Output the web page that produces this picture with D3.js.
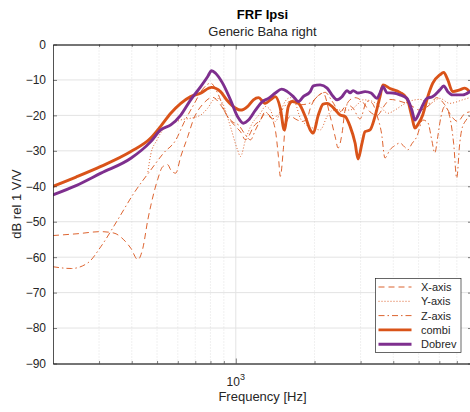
<!DOCTYPE html>
<html>
<head>
<meta charset="utf-8">
<script src="https://cdn.jsdelivr.net/npm/d3@7"></script>
<style>
  body { margin: 0; background: #fff; }
  svg { display: block; font-family: "Liberation Sans", Arial, Helvetica, sans-serif; }
  .grid-major { stroke: #e3e3e3; stroke-width: 1; }
  .grid-minor { stroke: #cfcfcf; stroke-width: 0.6; stroke-dasharray: 1,2; }
</style>
</head>
<body>
<svg id="chart" width="470" height="412"></svg>
<script>
// FRF Ipsi - Generic Baha right

const yTicks = [0, -10, -20, -30, -40, -50, -60, -70, -80, -90];
const xMinorTicks = [300, 400, 500, 600, 700, 800, 900, 2000, 3000, 4000, 5000, 6000, 7000];
const xMajorTicks = [1000];

const xAxisHz = [200, 247, 305, 342, 373, 397, 422, 441, 461, 473, 503, 525, 549, 564, 589, 616, 655, 690, 753, 815, 874, 938, 1000, 1042, 1089, 1118, 1168, 1242, 1297, 1356, 1416, 1455, 1480, 1519, 1546, 1616, 1718, 1796, 1876, 1926, 2048, 2158, 2296, 2398, 2461, 2549, 2617, 2735, 2858, 3038, 3260, 3466, 3718, 3885, 4241, 4629, 5053, 5516, 5867, 6294, 6690, 7054, 7499, 7834];
const xAxisDb = [-53.9, -53.4, -52.8, -53.2, -55.1, -57.5, -60.7, -57.5, -49.4, -45.5, -38, -34.5, -33.9, -35.4, -36.3, -31.6, -26, -21, -16.6, -14.9, -17, -20.8, -23.2, -24.6, -26.9, -26, -23.2, -21.3, -19.4, -20.3, -24.1, -31.6, -37.2, -29.7, -23.2, -20.3, -21.3, -21.7, -20.8, -18, -14.7, -13.7, -20.3, -26, -29.2, -25, -18.5, -15.6, -15, -16, -19, -20, -17, -15.5, -16, -17, -18.5, -17, -15, -17, -20.3, -21.7, -19.5, -19];

const yAxisHz = [461, 473, 499, 516, 564, 616, 672, 734, 780, 822, 852, 890, 954, 1015, 1042, 1089, 1138, 1242, 1297, 1356, 1416, 1480, 1546, 1616, 1688, 1764, 1843, 1977, 2102, 2235, 2357, 2505, 2735, 2908, 3068, 3318, 3558, 3817, 4059, 4354, 4629, 5053, 5516, 6025, 6572, 7370, 7834];
const yAxisDb = [-36, -31, -27, -25, -22.7, -21.3, -20.8, -19.9, -18, -15.6, -15.2, -16.6, -23.2, -29.7, -31.6, -26.9, -23.2, -19.4, -17.5, -18.5, -21.7, -19, -16, -15, -16.5, -20.8, -22.5, -23.6, -24.1, -20.3, -18.5, -18.5, -18.5, -17, -15.6, -16, -17.5, -19.4, -18.5, -17, -16, -15.5, -16.6, -15.2, -16.6, -15.6, -15];

const zAxisHz = [200, 235, 272, 305, 354, 408, 473, 530, 589, 634, 690, 753, 801, 852, 914, 967, 1024, 1089, 1138, 1189, 1242, 1297, 1380, 1480, 1616, 1764, 1926, 2066, 2197, 2335, 2505, 2664, 2808, 2985, 3175, 3318, 3466, 3606, 3718, 3885, 4059, 4241, 4431, 4549, 4711, 4923, 5188, 5421, 5616, 5765, 5919, 6025, 6294, 6572, 6808, 6993, 7178, 7305, 7567, 7834];
const zAxisDb = [-62.7, -63.2, -61.6, -57, -49.4, -41.9, -35.4, -30.6, -27, -22, -17, -12.3, -10.9, -13.7, -19.4, -21.7, -22.7, -25.5, -26.9, -24.1, -21.3, -19, -21, -19, -16, -17, -16.5, -14.5, -13.5, -16, -19, -17, -18, -21, -16, -16.5, -20, -25, -32, -29.7, -28.5, -27.8, -29, -29.7, -28, -26, -21.3, -22, -27, -30.6, -26, -22.2, -17.5, -20.3, -28, -37.7, -28, -24.1, -21.5, -20.3];

const combiHz = [200, 245, 305, 397, 473, 516, 564, 616, 672, 734, 808, 874, 922, 1000, 1042, 1108, 1168, 1220, 1297, 1356, 1416, 1480, 1532, 1588, 1644, 1734, 1843, 1926, 1977, 2066, 2158, 2235, 2357, 2505, 2617, 2735, 2858, 2934, 3038, 3120, 3260, 3406, 3558, 3653, 3885, 4241, 4509, 4711, 4837, 4966, 5188, 5421, 5664, 6025, 6237, 6464, 6747, 7178, 7499, 7834];
const combiDb = [-40, -37.4, -34.4, -30.2, -26.4, -23.1, -19.4, -16.6, -14.7, -13.7, -12.1, -13.3, -15.6, -18, -18.5, -17.5, -15.6, -15, -16.6, -15.6, -14.7, -18, -24.1, -17.5, -16.1, -16.6, -20.3, -24.1, -25, -20, -16.8, -16.6, -17.8, -19.9, -20.3, -23.1, -27.8, -32.3, -27.8, -24.6, -24.1, -20.3, -14.7, -11.4, -12.4, -13.5, -15.2, -20.3, -23.6, -22.6, -19.8, -14.7, -10.9, -8.6, -7.9, -10, -13.3, -12.8, -12.3, -13.3];

const dobrevHz = [200, 245, 305, 397, 473, 516, 564, 616, 672, 734, 780, 808, 837, 890, 954, 1015, 1070, 1118, 1189, 1264, 1332, 1416, 1497, 1574, 1660, 1734, 1811, 1926, 1977, 2102, 2235, 2357, 2440, 2549, 2664, 2735, 2808, 2934, 3120, 3290, 3466, 3558, 3653, 3783, 3989, 4241, 4509, 4711, 4837, 5053, 5374, 5664, 6025, 6237, 6464, 6747, 7370, 7834];
const dobrevDb = [-42.4, -39.8, -36.3, -32.1, -27.4, -24.1, -22.7, -19.9, -15.6, -11.9, -9.1, -7.4, -8.1, -10.9, -15.6, -20.3, -22.2, -21.3, -18.5, -16.1, -15.2, -13.7, -12.6, -13.3, -14.7, -16.1, -14.7, -13.3, -11.7, -11.4, -12.3, -14.7, -15.6, -14.7, -13, -13.6, -13, -13.7, -13.3, -13.7, -15.2, -13.7, -11.9, -13.6, -13.7, -14.2, -15.2, -18.5, -21.3, -18.9, -15.2, -14.7, -12.8, -11.7, -13.3, -14.2, -14.2, -13.3];

const seriesNames = ['X-axis', 'Y-axis', 'Z-axis', 'combi', 'Dobrev'];

const orange = '#d95319';
const purple = '#7e2f8e';
const ink = '#262626';

const series = [
    { name: seriesNames[0], hz: xAxisHz, db: xAxisDb, color: orange, width: 1, dash: '6,4' },
    { name: seriesNames[1], hz: yAxisHz, db: yAxisDb, color: orange, width: 1, dash: '1,2' },
    { name: seriesNames[2], hz: zAxisHz, db: zAxisDb, color: orange, width: 1, dash: '6,3,1.5,3' },
    { name: seriesNames[3], hz: combiHz, db: combiDb, color: orange, width: 2.9, dash: null },
    { name: seriesNames[4], hz: dobrevHz, db: dobrevDb, color: purple, width: 2.9, dash: null }
];

const svg = d3.select('#chart');
const plotLeft = 53, plotRight = 472, plotTop = 44.5, plotBottom = 363.5;

const x = d3.scaleLog().domain([200, 8000]).range([plotLeft, plotRight]);
const y = d3.scaleLinear().domain([-90, 0]).range([plotBottom, plotTop]);

// grid
svg.append('g').selectAll('line')
    .data(yTicks.slice(1, -1))
    .enter().append('line')
    .attr('class', 'grid-major')
    .attr('x1', plotLeft).attr('x2', plotRight)
    .attr('y1', d => y(d)).attr('y2', d => y(d));

svg.append('g').selectAll('line')
    .data(xMinorTicks)
    .enter().append('line')
    .attr('class', 'grid-minor')
    .attr('x1', d => x(d)).attr('x2', d => x(d))
    .attr('y1', plotTop).attr('y2', plotBottom);

svg.append('g').selectAll('line')
    .data(xMajorTicks)
    .enter().append('line')
    .attr('class', 'grid-major')
    .attr('x1', d => x(d)).attr('x2', d => x(d))
    .attr('y1', plotTop).attr('y2', plotBottom);

// curves
svg.append('clipPath').attr('id', 'plotClip')
    .append('rect')
    .attr('x', plotLeft).attr('y', plotTop)
    .attr('width', plotRight - plotLeft).attr('height', plotBottom - plotTop);

const line = d3.line()
    .x(d => x(d[0]))
    .y(d => y(d[1]))
    .curve(d3.curveMonotoneX);

const curves = svg.append('g').attr('clip-path', 'url(#plotClip)');
series.forEach(s => {
    curves.append('path')
        .datum(s.hz.map((f, i) => [f, s.db[i]]))
        .attr('d', line)
        .attr('fill', 'none')
        .attr('stroke', s.color)
        .attr('stroke-width', s.width)
        .attr('stroke-dasharray', s.dash)
        .attr('stroke-linejoin', 'round')
        .attr('stroke-linecap', s.dash ? 'butt' : 'round')
        .attr('opacity', s.dash ? 0.9 : 1);
});

// axes (ticks inside, MATLAB style)
const axisStyle = g => {
    g.selectAll('path.domain').attr('stroke', ink).attr('stroke-width', 0.8);
    g.selectAll('.tick line').attr('stroke', ink).attr('stroke-width', 0.6);
    g.selectAll('.tick text').attr('fill', ink).style('font-size', '12px')
        .style('font-family', '"Liberation Sans", Arial, sans-serif');
};

svg.append('g')
    .attr('transform', `translate(${plotLeft},0)`)
    .call(d3.axisLeft(y).tickValues(yTicks).tickSizeInner(-4).tickSizeOuter(0).tickPadding(7))
    .call(axisStyle);

svg.append('g')
    .attr('transform', `translate(0,${plotBottom})`)
    .call(d3.axisBottom(x).tickValues(xMinorTicks).tickSizeInner(-2.5).tickSizeOuter(0).tickFormat(''))
    .call(axisStyle);

svg.append('g')
    .attr('transform', `translate(0,${plotBottom})`)
    .call(d3.axisBottom(x).tickValues(xMajorTicks).tickSizeInner(-5).tickSizeOuter(0).tickFormat(''))
    .call(axisStyle);

svg.append('g')
    .attr('transform', `translate(0,${plotTop})`)
    .call(d3.axisTop(x).tickValues(xMinorTicks).tickSizeInner(-2.5).tickSizeOuter(0).tickFormat(''))
    .call(axisStyle);

svg.append('g')
    .attr('transform', `translate(0,${plotTop})`)
    .call(d3.axisTop(x).tickValues(xMajorTicks).tickSizeInner(-5).tickSizeOuter(0).tickFormat(''))
    .call(axisStyle);

svg.append('g')
    .attr('transform', `translate(${plotRight},0)`)
    .call(d3.axisRight(y).tickValues(yTicks).tickSizeInner(-4).tickSizeOuter(0).tickFormat(''))
    .call(axisStyle);

// 10^3 label
const expLabel = svg.append('text')
    .attr('x', x(1000))
    .attr('y', 386)
    .attr('text-anchor', 'middle')
    .attr('fill', ink)
    .style('font-size', '12px');
expLabel.append('tspan').text('10');
expLabel.append('tspan').attr('dy', -6).style('font-size', '9px').text('3');

// axis labels
svg.append('text')
    .attr('x', (plotLeft + plotRight) / 2)
    .attr('y', 401)
    .attr('text-anchor', 'middle')
    .attr('fill', ink)
    .style('font-size', '13px')
    .text('Frequency [Hz]');

svg.append('text')
    .attr('transform', 'rotate(-90)')
    .attr('x', -(plotTop + plotBottom) / 2)
    .attr('y', 21)
    .attr('text-anchor', 'middle')
    .attr('fill', ink)
    .style('font-size', '13px')
    .text('dB rel 1 V/V');

// titles
svg.append('text')
    .attr('x', (plotLeft + plotRight) / 2)
    .attr('y', 19)
    .attr('text-anchor', 'middle')
    .attr('fill', '#000')
    .style('font-size', '13px')
    .style('font-weight', 'bold')
    .text('FRF Ipsi');

svg.append('text')
    .attr('x', (plotLeft + plotRight) / 2)
    .attr('y', 36)
    .attr('text-anchor', 'middle')
    .attr('fill', ink)
    .style('font-size', '13px')
    .text('Generic Baha right');

// legend
const legend = svg.append('g').attr('transform', 'translate(375.5,278.5)');
legend.append('rect')
    .attr('width', 85.5).attr('height', 74)
    .attr('fill', '#fff')
    .attr('stroke', ink)
    .attr('stroke-width', 0.7);

series.forEach((s, i) => {
    const ly = 8.5 + i * 14.3;
    legend.append('line')
        .attr('x1', 3).attr('x2', 36)
        .attr('y1', ly).attr('y2', ly)
        .attr('stroke', s.color)
        .attr('stroke-width', s.width)
        .attr('stroke-dasharray', s.dash)
        .attr('opacity', s.dash ? 0.9 : 1);
    legend.append('text')
        .attr('x', 45.5)
        .attr('y', ly + 4)
        .attr('fill', ink)
        .style('font-size', '11px')
        .text(s.name);
});
</script>
</body>
</html>
